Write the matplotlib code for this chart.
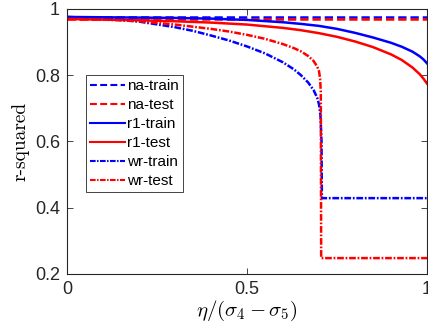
import matplotlib
matplotlib.use("Agg")
import matplotlib.pyplot as plt

plt.rcParams['mathtext.fontset'] = 'cm'
plt.rcParams['font.family'] = ['Liberation Sans', 'DejaVu Sans']

# ---- data ----
na_x = [0.0, 0.25, 0.5, 0.75, 1.0]
na_train = [0.975, 0.975, 0.975, 0.975, 0.975]
na_test = [0.970, 0.970, 0.970, 0.970, 0.970]

r1_x = [0.0, 0.1, 0.2, 0.3, 0.4, 0.5, 0.6, 0.65, 0.7, 0.75, 0.8, 0.85, 0.9, 0.93, 0.96, 0.98, 0.99, 1.0]
r1_train = [0.976, 0.975, 0.974, 0.973, 0.971, 0.967, 0.960, 0.955, 0.949, 0.940, 0.928, 0.914,
            0.898, 0.886, 0.871, 0.857, 0.848, 0.836]
r1_test = [0.970, 0.968, 0.966, 0.963, 0.959, 0.953, 0.943, 0.936, 0.927, 0.916, 0.902, 0.885,
           0.863, 0.846, 0.823, 0.803, 0.790, 0.775]

wr_train_x = [0.0, 0.1, 0.2, 0.3, 0.35, 0.4, 0.45, 0.5, 0.55, 0.6, 0.63, 0.65, 0.67, 0.685,
              0.695, 0.70, 0.704, 0.707, 0.708, 1.0]
wr_train = [0.976, 0.972, 0.962, 0.945, 0.934, 0.920, 0.905, 0.887, 0.866, 0.839, 0.818, 0.800,
            0.778, 0.755, 0.732, 0.712, 0.680, 0.600, 0.429, 0.429]

wr_test_x = [0.0, 0.1, 0.2, 0.3, 0.4, 0.45, 0.5, 0.55, 0.6, 0.63, 0.65, 0.67, 0.685, 0.695,
             0.70, 0.703, 0.705, 0.706, 1.0]
wr_test = [0.970, 0.968, 0.963, 0.953, 0.940, 0.932, 0.922, 0.910, 0.894, 0.882, 0.872, 0.858,
           0.843, 0.826, 0.812, 0.790, 0.750, 0.248, 0.248]

labels = ['na-train', 'na-test', 'r1-train', 'r1-test', 'wr-train', 'wr-test']
xticks = [0, 0.5, 1]
xticklabels = ['0', '0.5', '1']
yticks = [0.2, 0.4, 0.6, 0.8, 1.0]
yticklabels = ['0.2', '0.4', '0.6', '0.8', '1']

fig = plt.figure(figsize=(4.28, 3.32), dpi=100)
ax = fig.add_axes([67/428, 58/332, 360/428, 265/332])

lw = 1.8
blue = (0, 0, 1)
red = (1, 0, 0)
dash = (3.3, 1.6)
dashdot = (2.7, 0.7, 0.7, 0.7)
ax.plot(na_x, na_train, color=blue, lw=lw, dashes=dash, label=labels[0])
ax.plot(na_x, na_test, color=red, lw=lw, dashes=dash, label=labels[1])
ax.plot(r1_x, r1_train, '-', color=blue, lw=lw, label=labels[2])
ax.plot(r1_x, r1_test, '-', color=red, lw=lw, label=labels[3])
ax.plot(wr_train_x, wr_train, color=blue, lw=lw, dashes=dashdot, label=labels[4])
ax.plot(wr_test_x, wr_test, color=red, lw=lw, dashes=dashdot, label=labels[5])

ax.set_xlim(0, 1)
ax.set_ylim(0.2, 1.0)
ax.set_xticks(xticks)
ax.set_xticklabels(xticklabels)
ax.set_yticks(yticks)
ax.set_yticklabels(yticklabels)
ax.tick_params(direction='in', length=4, width=0.6, colors='#262626',
               labelsize=13, top=True, right=True, labelcolor='#262626', pad=5)
for s in ax.spines.values():
    s.set_linewidth(0.8)
    s.set_color('#262626')

ax.set_xlabel(r'$\eta/(\sigma_4-\sigma_5)$', fontsize=15, labelpad=1)
ax.set_ylabel('r-squared', fontsize=14, family='cmr10', labelpad=4)

leg = ax.legend(loc='upper left', bbox_to_anchor=(0.052, 0.75), fontsize=11,
                handlelength=2.3, handletextpad=0.15, labelspacing=0.33,
                borderpad=0.25, borderaxespad=0, fancybox=False, framealpha=1,
                edgecolor='#262626')
leg.get_frame().set_linewidth(0.6)
for line in leg.get_lines():
    line.set_linewidth(1.5)

fig.savefig('out.png', dpi=100)
